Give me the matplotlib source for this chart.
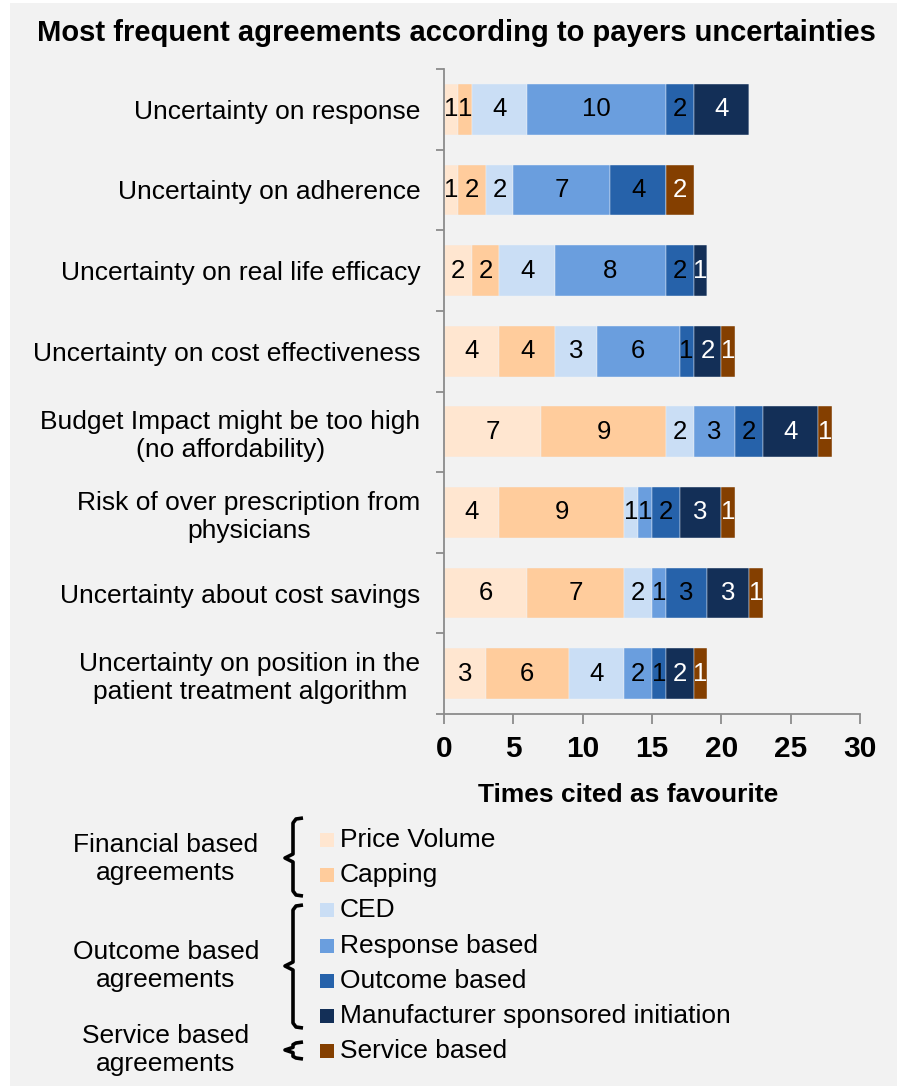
"""
    stacked bar chart of favourite agreement types per payer uncertainty
"""

import numpy as np
import matplotlib.pyplot as plt
from matplotlib.patches import Rectangle

plt.rcParams['font.family'] = ['Liberation Sans', 'DejaVu Sans']

##########  data  ##########
categories = ["Uncertainty on response",
              "Uncertainty on adherence",
              "Uncertainty on real life efficacy",
              "Uncertainty on cost effectiveness",
              "Budget Impact might be too high\n(no affordability)",
              "Risk of over prescription from\nphysicians",
              "Uncertainty about cost savings",
              "Uncertainty on position in the\npatient treatment algorithm"]

series_names = ["Price Volume", "Capping", "CED", "Response based",
                "Outcome based", "Manufacturer sponsored initiation",
                "Service based"]

price_volume = [1, 1, 2, 4, 7, 4, 6, 3]
capping      = [1, 2, 2, 4, 9, 9, 7, 6]
ced          = [4, 2, 4, 3, 2, 1, 2, 4]
response     = [10, 7, 8, 6, 3, 1, 1, 2]
outcome      = [2, 4, 2, 1, 2, 2, 3, 1]
manufacturer = [4, 0, 1, 2, 4, 3, 3, 2]
service      = [0, 2, 0, 1, 1, 1, 1, 1]

groups = ["Financial based\nagreements",
          "Outcome based\nagreements",
          "Service based\nagreements"]

xticks = [0, 5, 10, 15, 20, 25, 30]

colors = ["#FFE6D0", "#FFCC9C", "#CADEF5", "#6A9EDE",
          "#2662AA", "#132F57", "#843F00"]
text_colors = ["black", "black", "black", "black", "black", "white", "white"]

W, H = 897, 1086
fig = plt.figure(figsize=(W/100, H/100), dpi=100, facecolor="white")

# overlay in pixel coords for background, title and legend
ov = fig.add_axes([0, 0, 1, 1])
ov.set_zorder(-1)
ov.set_xlim(0, W)
ov.set_ylim(H, 0)
ov.axis("off")
ov.add_patch(Rectangle((10, 3), W - 10, H - 3, color="#F2F2F2", lw=0))

# main bar chart
ax = fig.add_axes([444/W, 1 - 714/H, (860 - 444)/W, (714 - 69)/H])
ax.set_facecolor("none")

y = np.arange(len(categories))
series = [price_volume, capping, ced, response, outcome, manufacturer, service]
left = np.zeros(len(categories))
for vals, c, tc in zip(series, colors, text_colors):
    vals = np.array(vals, dtype=float)
    ax.barh(y, vals, left=left, height=0.63, color=c,
            edgecolor="#EEF2F7", linewidth=0.3)
    for yi, (l, v) in enumerate(zip(left, vals)):
        if v > 0:
            ax.text(l + v/2, yi, "%d" % v, ha="center", va="center",
                    fontsize=18.5, color=tc)
    left += vals

ax.set_xlim(0, 30)
ax.set_ylim(len(categories) - 0.5, -0.5)
ax.set_xticks(xticks)
ax.set_xticklabels([str(t) for t in xticks], fontsize=21.5, fontweight="bold")
ax.set_yticks(y)
ax.set_yticklabels(categories, fontsize=19, multialignment="center")
ax.set_yticks(np.arange(-0.5, len(categories)), minor=True)

gray = "#8C8C8C"
for s in ["top", "right"]:
    ax.spines[s].set_visible(False)
for s in ["left", "bottom"]:
    ax.spines[s].set_color(gray)
    ax.spines[s].set_linewidth(1.3)
ax.tick_params(axis="y", which="major", length=0, pad=17)
ax.tick_params(axis="y", which="minor", length=6, width=1.3, color=gray)
ax.tick_params(axis="x", length=7, width=1.3, color=gray, pad=8)

# title and axis label
ov.text(456, 33, "Most frequent agreements according to payers uncertainties",
        ha="center", va="center", fontsize=21, fontweight="bold")
ov.text(628, 795, "Times cited as favourite", ha="center", va="center",
        fontsize=19, fontweight="bold")

# legend
for i, (name, c) in enumerate(zip(series_names, colors)):
    yc = 840 + 35.2*i
    ov.add_patch(Rectangle((320, yc - 7), 14, 14, color=c, lw=0))
    ov.text(340, yc, name, ha="left", va="center", fontsize=19)


def brace(y0, y1, ym):
    # curly bracket: hooks at both ends, point to the left in the middle
    h = min(5, (ym - y0)/3)
    t = min(4, (ym - y0)/3)
    xs = [303, 296, 293, 293, 285, 293, 293, 296, 303]
    ys = [y0, y0 + 1, y0 + h, ym - t, ym, ym + t, y1 - h, y1 - 1, y1]
    ov.plot(xs, ys, color="black", lw=2.6, solid_joinstyle="round",
            solid_capstyle="butt")


brace(818, 896, 858)
brace(905, 1028, 966)
brace(1042, 1059, 1050)

for g, yc in zip(groups, [859, 966, 1050]):
    ov.text(166, yc, g, ha="center", va="center", fontsize=19,
            multialignment="center")

fig.savefig("out.png", dpi=100)
